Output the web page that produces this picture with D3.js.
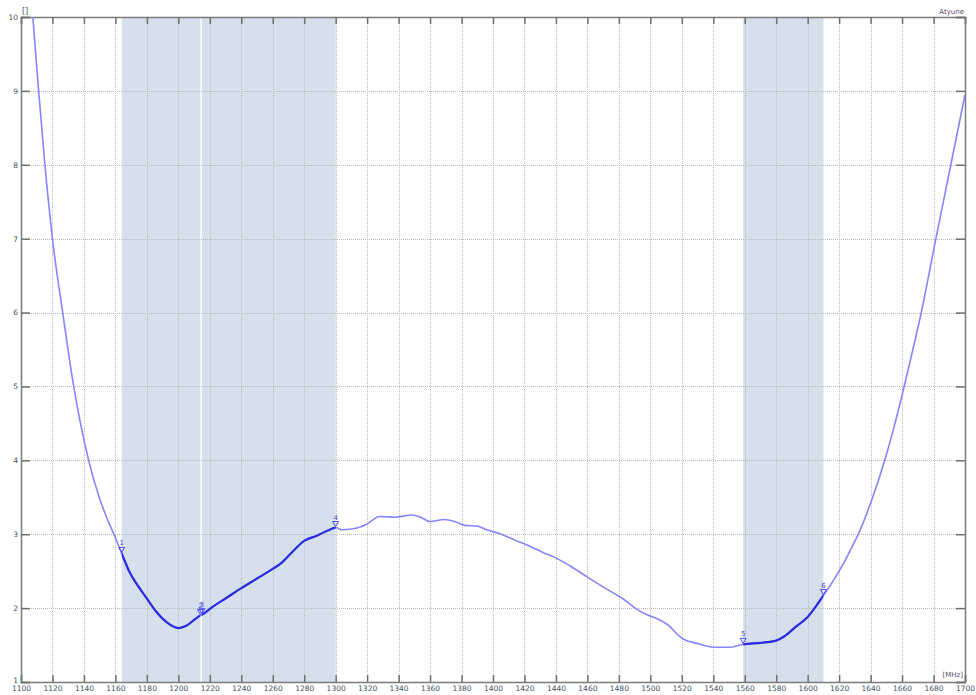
<!DOCTYPE html>
<html>
<head>
<meta charset="utf-8">
<script src="https://cdn.jsdelivr.net/npm/d3@7"></script>
<style>
  html, body { margin: 0; padding: 0; background: #ffffff; }
  svg { display: block; }
  text { font-family: "DejaVu Sans", Verdana, sans-serif; }
</style>
</head>
<body>
<svg id="chart" width="976" height="695"></svg>
<script>
// Sweep frequencies (MHz) and the measured ratio at each one
const freqs = [
  1107.5, 1111.2, 1115.2, 1120, 1126.5, 1133.5, 1143, 1150, 1155, 1160,
  1164, 1168.5, 1175, 1180, 1186, 1192.5, 1200, 1205, 1210, 1214,
  1215, 1222, 1230, 1240, 1250, 1260, 1266, 1272, 1280, 1288,
  1295, 1300, 1304, 1310, 1316, 1320, 1328, 1338, 1348, 1354,
  1360, 1369, 1376, 1382, 1390, 1396, 1404, 1414, 1424, 1432,
  1440, 1449, 1460, 1472, 1483, 1491, 1498, 1506, 1512, 1516,
  1521, 1530, 1540, 1550, 1559, 1570, 1580, 1586, 1592, 1600,
  1610, 1620, 1628, 1634, 1640, 1649, 1655, 1660, 1666, 1672,
  1681.5, 1691, 1700
];
const ratio = [
  10.0, 9.0, 8.0, 7.0, 6.0, 5.0, 4.0, 3.48, 3.2, 2.95,
  2.74, 2.51, 2.28, 2.13, 1.95, 1.81, 1.73, 1.76, 1.84, 1.90,
  1.91, 2.02, 2.13, 2.27, 2.40, 2.53, 2.62, 2.75, 2.91, 2.98,
  3.05, 3.09, 3.06, 3.07, 3.10, 3.14, 3.24, 3.23, 3.26, 3.23,
  3.17, 3.20, 3.17, 3.12, 3.11, 3.06, 3.01, 2.92, 2.83, 2.75,
  2.68, 2.57, 2.42, 2.26, 2.12, 1.99, 1.91, 1.84, 1.76, 1.67,
  1.58, 1.52, 1.47, 1.47, 1.51, 1.53, 1.56, 1.63, 1.74, 1.88,
  2.17, 2.50, 2.82, 3.09, 3.42, 4.0, 4.46, 4.88, 5.42, 5.98,
  7.0, 8.0, 8.95
];

// Highlighted frequency bands [start, end] in MHz
const bandStart = [1164, 1215, 1559];
const bandEnd   = [1214, 1300, 1610];

// Markers placed on the trace
const markerNames = ["1", "2", "3", "4", "5", "6"];
const markerFreqs = [1164, 1214, 1215, 1300, 1559, 1610];

// Axis ticks
const xTicks = d3.range(1100, 1701, 20);
const yTicks = d3.range(1, 11, 1);

const svg = d3.select("#chart");
const plotL = 21, plotR = 965, plotT = 17, plotB = 682;

const x = d3.scaleLinear().domain([1100, 1700]).range([plotL, plotR]);
const y = d3.scaleLinear().domain([1, 10]).range([plotB, plotT]);

const defs = svg.append("defs");
defs.append("clipPath").attr("id", "plotClip")
  .append("rect").attr("x", plotL).attr("y", plotT)
  .attr("width", plotR - plotL).attr("height", plotB - plotT);

const bandClip = defs.append("clipPath").attr("id", "bandClip");
bandStart.forEach((s, i) => {
  bandClip.append("rect")
    .attr("x", x(s)).attr("y", plotT)
    .attr("width", x(bandEnd[i]) - x(s)).attr("height", plotB - plotT);
});

// Band shading
svg.append("g").selectAll("rect")
  .data(bandStart.map((s, i) => [s, bandEnd[i]]))
  .join("rect")
  .attr("x", d => x(d[0]))
  .attr("y", plotT)
  .attr("width", d => x(d[1]) - x(d[0]))
  .attr("height", plotB - plotT)
  .attr("fill", "#d5e0ec");

// Dotted grid
const grid = svg.append("g").attr("stroke", "#b4b4b4").attr("stroke-width", 1)
  .attr("stroke-dasharray", "1,1").attr("opacity", 0.9);
grid.append("g").selectAll("line")
  .data(xTicks.filter(t => t > 1100 && t < 1700))
  .join("line")
  .attr("x1", d => Math.round(x(d)) + 0.5).attr("x2", d => Math.round(x(d)) + 0.5)
  .attr("y1", plotT).attr("y2", plotB);
grid.append("g").selectAll("line")
  .data(yTicks.filter(t => t > 1 && t < 10))
  .join("line")
  .attr("x1", plotL).attr("x2", plotR)
  .attr("y1", d => Math.round(y(d)) + 0.5).attr("y2", d => Math.round(y(d)) + 0.5);

// Axes
const tickColor = "#6e6e6e";
const labelColor = "#44505c";

const gBottom = svg.append("g").attr("transform", `translate(0,${plotB})`)
  .call(d3.axisBottom(x).tickValues(xTicks).tickSize(-7).tickPadding(4).tickFormat(d3.format("d")));
const gTop = svg.append("g").attr("transform", `translate(0,${plotT})`)
  .call(d3.axisTop(x).tickValues(xTicks).tickSize(-7).tickFormat(""));
const gLeft = svg.append("g").attr("transform", `translate(${plotL},0)`)
  .call(d3.axisLeft(y).tickValues(yTicks).tickSize(-9).tickPadding(3).tickFormat(d3.format("d")));
const gRight = svg.append("g").attr("transform", `translate(${plotR},0)`)
  .call(d3.axisRight(y).tickValues(yTicks).tickSize(-9).tickFormat(""));

[gBottom, gTop, gLeft, gRight].forEach(g => {
  g.select(".domain").attr("stroke", "#7a7a7a").attr("stroke-width", 1.5);
  g.selectAll(".tick line").attr("stroke", tickColor).attr("stroke-width", 1.5);
  g.selectAll(".tick text").attr("fill", labelColor)
    .attr("font-family", "DejaVu Sans, Verdana, sans-serif")
    .attr("font-size", 7.5);
});
gLeft.selectAll(".tick text").attr("x", -3);
// lift the lowest value label clear of the frequency labels
gLeft.selectAll(".tick text").filter(d => d === 1).attr("dy", "0.05em");

// Unit labels
svg.append("text").attr("x", 22).attr("y", 14)
  .attr("font-size", 8).attr("fill", labelColor).text("[]");
svg.append("text").attr("x", plotR - 1).attr("y", 14).attr("text-anchor", "end")
  .attr("font-size", 7).attr("fill", "#5a4a6a").text("Atyune");
svg.append("text").attr("x", plotR - 2).attr("y", 677).attr("text-anchor", "end")
  .attr("font-size", 7).attr("fill", "#5a4a6a").text("[MHz]");

// Trace
const pts = freqs.map((f, i) => [f, ratio[i]]);
const line = d3.line().x(d => x(d[0])).y(d => y(d[1])).curve(d3.curveMonotoneX);

const traceG = svg.append("g").attr("clip-path", "url(#plotClip)");
traceG.append("path")
  .attr("d", line(pts))
  .attr("fill", "none")
  .attr("stroke", "#8585ff")
  .attr("stroke-width", 1.6);
traceG.append("g").attr("clip-path", "url(#bandClip)")
  .append("path")
  .attr("d", line(pts))
  .attr("fill", "none")
  .attr("stroke", "#2a2ae0")
  .attr("stroke-width", 2.2);

// Markers
const mk = svg.append("g");
markerFreqs.forEach((f, i) => {
  const v = ratio[freqs.indexOf(f)];
  const px = x(f), py = y(v);
  mk.append("path")
    .attr("d", `M${px - 3},${py - 6}L${px + 3},${py - 6}L${px},${py - 1}Z`)
    .attr("fill", "none").attr("stroke", "#4b4bff").attr("stroke-width", 1);
  mk.append("text")
    .attr("x", px).attr("y", py - 8)
    .attr("text-anchor", "middle")
    .attr("font-size", 7)
    .attr("fill", "#4b3fd8")
    .text(markerNames[i]);
});
</script>
</body>
</html>
